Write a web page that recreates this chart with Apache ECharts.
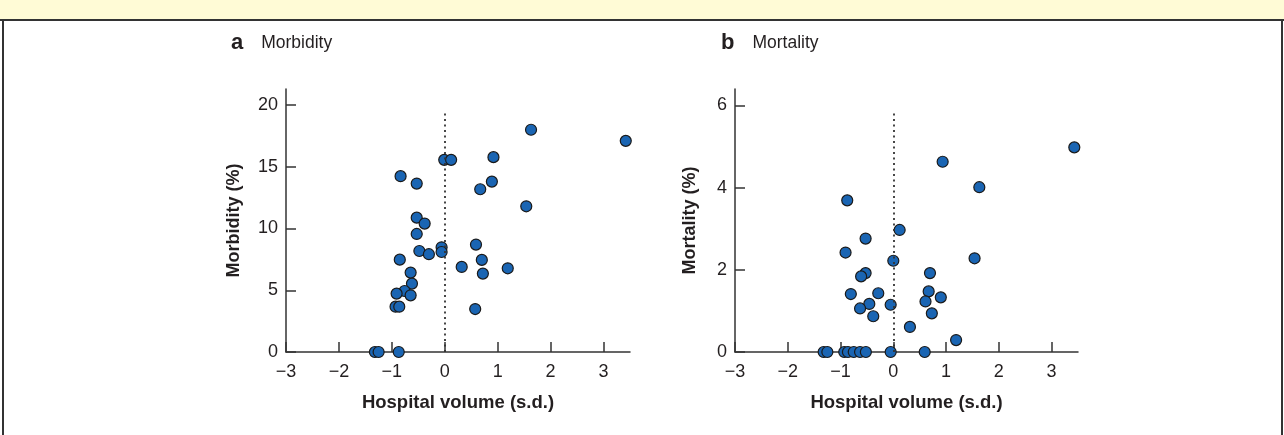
<!DOCTYPE html>
<html>
<head>
<meta charset="utf-8">
<script src="https://cdn.jsdelivr.net/npm/echarts@6/dist/echarts.min.js"></script>
<style>
  html, body { margin: 0; padding: 0; background: #fff; }
  #band { position: absolute; left: 0; top: 0; width: 1284px; height: 19px; background: #fffbd6; border-bottom: 2px solid #333; }
  #frame { position: absolute; left: 2px; top: 21px; width: 1277px; height: 420px; border-left: 2px solid #333; border-right: 2px solid #333; }
  #chart { position: absolute; left: 0; top: 0; width: 1284px; height: 435px; }
</style>
</head>
<body>
<div id="band"></div>
<div id="frame"></div>
<div id="chart"></div>
<script>
// Panel a: Morbidity (%) vs hospital volume (s.d.)
const morbidityX = [-0.835, -0.53, -0.01, 0.12, 0.92, 0.89, 0.67, -0.53, -0.38, -0.53, -0.06, -0.06, -0.48, -0.30, 0.59, -0.85, 0.32, 0.70, 1.19, 0.72, -0.645, -0.62, -0.76, -0.91, -0.645, -0.93, -0.86, 0.575, -1.32, -1.25, -0.87, 1.63, 3.42, 1.54];
const morbidityY = [14.24, 13.64, 15.56, 15.56, 15.78, 13.8, 13.18, 10.88, 10.4, 9.56, 8.48, 8.1, 8.18, 7.92, 8.7, 7.48, 6.89, 7.46, 6.78, 6.35, 6.43, 5.54, 4.94, 4.73, 4.59, 3.67, 3.67, 3.48, 0, 0, 0, 18.0, 17.1, 11.8];
// Panel b: Mortality (%) vs hospital volume (s.d.)
const mortalityX = [0.935, 1.63, -0.873, 0.12, -0.525, -0.905, 0.0, 1.54, 0.695, -0.525, -0.61, -0.805, -0.285, 0.67, 0.90, 0.61, -0.455, -0.05, -0.63, 0.73, -0.38, 0.315, 1.19, 3.43, -1.32, -1.25, -0.93, -0.86, -0.75, -0.63, -0.52, -0.05, 0.595];
const mortalityY = [4.63, 4.01, 3.69, 2.97, 2.76, 2.42, 2.22, 2.28, 1.92, 1.92, 1.84, 1.41, 1.43, 1.475, 1.33, 1.23, 1.17, 1.15, 1.06, 0.94, 0.87, 0.61, 0.29, 4.98, 0, 0, 0, 0, 0, 0, 0, 0, 0];
const xTicks = [-3, -2, -1, 0, 1, 2, 3];
const morbidityTicks = [0, 5, 10, 15, 20];
const mortalityTicks = [0, 2, 4, 6];
const morbidityRefTop = 19.55;
const mortalityRefTop = 5.86;

const FONT = '"Liberation Sans", Arial, Helvetica, sans-serif';
const TXT = '#231f20';
const AX = '#333';

function fmt(v) { return v < 0 ? '\u2212' + Math.abs(v) : String(v); }

function xAxisOpt(gi) {
  return {
    type: 'value', gridIndex: gi, min: -3, max: 3.5,
    name: 'Hospital volume (s.d.)', nameLocation: 'middle', nameGap: 41,
    nameTextStyle: { fontFamily: FONT, fontSize: 18.5, fontWeight: 'bold', color: TXT },
    axisLine: { show: true, onZero: false, lineStyle: { color: AX, width: 1.5 } },
    axisTick: { show: true, inside: true, length: 10, customValues: xTicks, lineStyle: { color: AX, width: 1.5 } },
    axisLabel: { customValues: xTicks, formatter: fmt, margin: 11, fontFamily: FONT, fontSize: 18, color: TXT },
    splitLine: { show: false }
  };
}
function yAxisOpt(gi, max, ticks, name, gap) {
  return {
    type: 'value', gridIndex: gi, min: 0, max: max,
    name: name, nameLocation: 'middle', nameGap: gap, nameRotate: 90,
    nameTextStyle: { fontFamily: FONT, fontSize: 18, fontWeight: 'bold', color: TXT },
    axisLine: { show: true, onZero: false, lineStyle: { color: AX, width: 1.5 } },
    axisTick: { show: true, inside: true, length: 10, customValues: ticks, lineStyle: { color: AX, width: 1.5 } },
    axisLabel: { customValues: ticks, margin: 8, fontFamily: FONT, fontSize: 18, color: TXT },
    splitLine: { show: false }
  };
}
function pts(xs, ys) { return xs.map((x, i) => [x, ys[i]]); }
function scatter(gi, data, refTop) {
  return {
    type: 'scatter', xAxisIndex: gi, yAxisIndex: gi, data: data,
    symbolSize: 11,
    itemStyle: { color: '#1a65b3', borderColor: '#1a1a1a', borderWidth: 1.2, opacity: 1 },
    z: 3,
    markLine: {
      silent: true, symbol: 'none', animation: false,
      label: { show: false },
      lineStyle: { type: [2, 3.5], color: AX, width: 1.8 },
      data: [[{ coord: [0, 0] }, { coord: [0, refTop] }]]
    }
  };
}
function titleOpt(letter, word, left) {
  return {
    text: '{b|' + letter + '}{n|' + word + '}', left: left, top: 27,
    textStyle: { rich: {
      b: { fontFamily: FONT, fontSize: 22, fontWeight: 'bold', color: TXT },
      n: { fontFamily: FONT, fontSize: 17.5, fontWeight: 'normal', color: TXT, padding: [0, 0, 0, 18] }
    } }
  };
}

const chart = echarts.init(document.getElementById('chart'));
chart.setOption({
  animation: false,
  title: [titleOpt('a', 'Morbidity', 226), titleOpt('b', 'Mortality', 716)],
  grid: [
    { left: 286, top: 89, width: 344, height: 263 },
    { left: 735, top: 89, width: 343, height: 263 }
  ],
  xAxis: [xAxisOpt(0), xAxisOpt(1)],
  yAxis: [
    yAxisOpt(0, 21.3, morbidityTicks, 'Morbidity (%)', 43),
    yAxisOpt(1, 6.4, mortalityTicks, 'Mortality (%)', 36)
  ],
  series: [
    scatter(0, pts(morbidityX, morbidityY), morbidityRefTop),
    scatter(1, pts(mortalityX, mortalityY), mortalityRefTop)
  ]
});
</script>
</body>
</html>
